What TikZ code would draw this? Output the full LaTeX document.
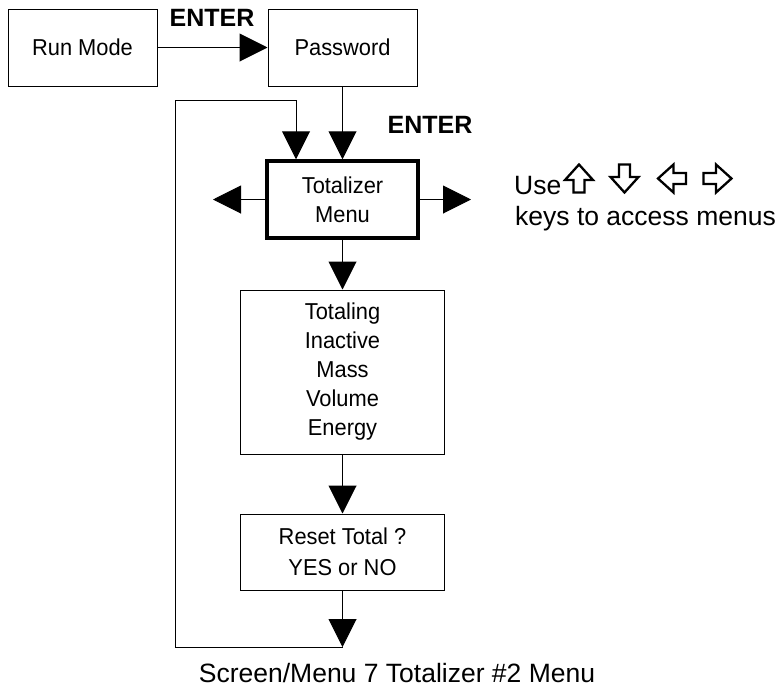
\documentclass[tikz,border=0pt]{standalone}
\usepackage{fontspec}
\setmainfont{Liberation Sans}
\newfontfamily\boxfont{Liberation Sans}[FakeStretch=0.95]
\usetikzlibrary{arrows.meta}
\begin{document}
\begin{tikzpicture}[x=1pt,y=-1pt,
  box/.style={draw, line width=1pt, inner sep=0pt, align=center,
    font=\boxfont\fontsize{23}{29}\selectfont},
  thickbox/.style={box, line width=3.5pt},
  conn/.style={line width=1pt},
  arr/.style={conn, -{Triangle[length=28pt,width=28pt]}},
  lbl/.style={inner sep=0pt, font=\bfseries\fontsize{25}{30}\selectfont},
  txt/.style={inner sep=0pt, font=\fontsize{26.5}{30}\selectfont},
  keyarrow/.style={line width=2.3pt, line join=miter}]
\useasboundingbox (0,0) rectangle (780,689);

\node[box, minimum width=149pt, minimum height=77pt] (run) at (82.5,47.5) {Run Mode};
\node[box, minimum width=149pt, minimum height=77pt] (pass) at (342.5,47.5) {Password};
\node[thickbox, minimum width=151pt, minimum height=77pt] (tot) at (342.5,199.5) {Totalizer\\Menu};
\node[box, minimum width=204pt, minimum height=164pt] (totl) at (342.5,372) {Totaling\\Inactive\\Mass\\Volume\\Energy};
\node[box, minimum width=204pt, minimum height=76pt, font=\boxfont\fontsize{23}{31}\selectfont] (reset) at (342.5,552) {Reset Total ?\\YES or NO};

\node[lbl] (enter1) at (212,18) {ENTER};
\node[lbl] (enter2) at (430,124.5) {ENTER};

\node[txt, anchor=base west] (use) at (514,194) {Use};
\node[txt, anchor=base west] (keys) at (515,225) {keys to access menus};

\node[txt] (cap) at (397,673) {Screen/Menu 7 Totalizer \#2 Menu};

% outline key arrows
\foreach \cx/\cy/\rot in {579/178.5/0, 624.5/178.5/180, 672/178.5/90, 717.5/178.5/-90}{
  \draw[keyarrow, shift={(\cx,\cy)}, rotate=\rot]
    (0,-14) -- (14,1.5) -- (5.5,1.5) -- (5.5,14) -- (-5.5,14) -- (-5.5,1.5) -- (-14,1.5) -- cycle;
}

\coordinate (lefttip) at (213,199.5);
\coordinate (righttip) at (471,199.5);
\coordinate (bot) at (342.5,647);
\coordinate (bl) at (175,647);
\coordinate (tl) at (175,100);
\coordinate (loopin) at (296,100);

\draw[arr] (run) -- (pass);
\draw[arr] (pass) -- (tot);
\draw[arr] (tot) -- (lefttip);
\draw[arr] (tot) -- (righttip);
\draw[arr] (tot) -- (totl);
\draw[arr] (totl) -- (reset);
\draw[arr] (reset) -- (bot);
\draw[arr] (bot) -- (bl) -- (tl) -- (loopin) -- (loopin |- tot.north);
\end{tikzpicture}
\end{document}
